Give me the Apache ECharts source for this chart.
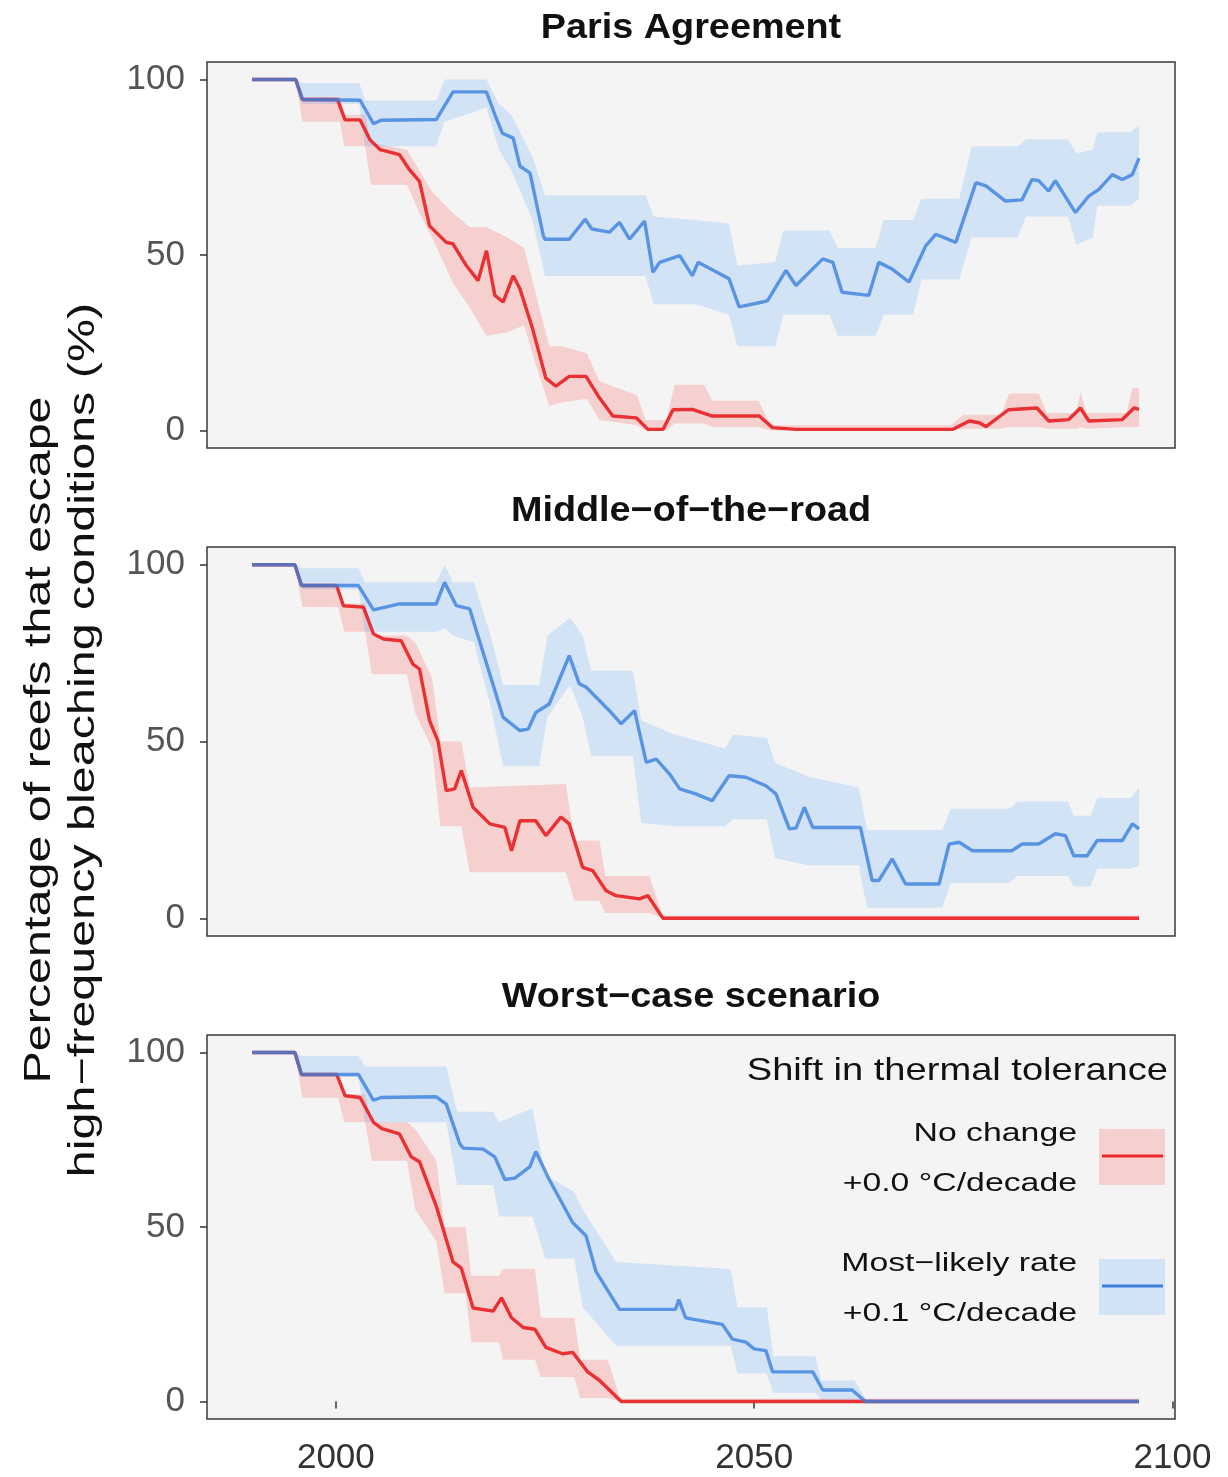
<!DOCTYPE html>
<html>
<head>
<meta charset="utf-8">
<script src="https://cdn.jsdelivr.net/npm/echarts@6/dist/echarts.min.js"></script>
<style>
  html, body { margin: 0; padding: 0; background: #fff; }
  #chart { width: 1228px; height: 1477px; }
</style>
</head>
<body>
<div id="chart"></div>
<script>
// panel titles and tick values
const panelTitles = ['Paris Agreement', 'Middle\u2212of\u2212the\u2212road', 'Worst\u2212case scenario']
const yTicks = [0, 50, 100]
const xTicks = [2000, 2050, 2100]
const seriesNames = ['No change', 'Most\u2212likely rate']

// Paris Agreement: [year, %]
const parisNoChange = [[1990,100],[1995.2,100],[1996,94.3],[2000.2,94.3],[2001.1,88.5],[2002.9,88.5],[2004.1,82.8],[2005.3,80],[2007.6,78.6],[2008.8,74.3],[2010,71],[2011.2,58.3],[2013.2,53.6],[2014,53.2],[2015.6,47],[2017,42.7],[2018,51.2],[2019,38.5],[2020,36.6],[2021.2,44.1],[2022,40.4],[2023.5,29.1],[2025.1,14.9],[2026.3,12.6],[2027.9,15.4],[2029.9,15.4],[2031.5,9.3],[2033.1,4.1],[2035.9,3.6],[2037.3,0.3],[2039.1,0.3],[2040.3,5.9],[2042.6,6],[2045,4.1],[2050.6,4.1],[2052.2,0.8],[2055,0.3],[2073.7,0.3],[2075.7,2.7],[2076.9,2.2],[2077.7,1.1],[2080.4,5.9],[2083.8,6.4],[2085.2,2.7],[2087.6,3.1],[2089,6.4],[2090,2.7],[2094,3.1],[2095.4,6.4],[2096,6]]
const parisLikely = [[1990,100],[1995.2,100],[1996,94.3],[2002.9,94.1],[2004.5,87.4],[2005.4,88.4],[2012,88.6],[2014,96.5],[2018,96.5],[2019.1,89.4],[2019.9,84.7],[2021.2,83.3],[2022,75.3],[2023.2,73.4],[2024.8,55.5],[2025,54.5],[2027.9,54.5],[2029.8,60.2],[2030.6,57.4],[2032.7,56.5],[2033.9,59.3],[2035.1,54.5],[2036.9,59.7],[2037.9,45.1],[2038.7,47.9],[2041.1,49.8],[2042.6,44.1],[2043.3,47.9],[2047,43.2],[2048.2,35.2],[2051,36.6],[2051.6,37],[2053.8,45.6],[2055,41.3],[2058.2,48.9],[2059.4,47.9],[2060.5,39.4],[2063.7,38.5],[2064.9,47.9],[2066.5,46],[2068.5,42.3],[2070.5,52.6],[2071.7,55.9],[2074.1,53.6],[2076.5,70.6],[2077.7,69.7],[2080,65.4],[2082,65.7],[2083.2,71.5],[2084,71.2],[2085.2,68.2],[2086,71.2],[2088.4,62.1],[2090,66.8],[2091.2,68.7],[2092.8,72.9],[2094,71.5],[2095.2,72.9],[2096,77.6]]
// bands: [year, low, high]
const parisNoChangeBand = [[1990,100,100],[1995.2,100,100],[1996,88,95],[2000.5,88,95],[2001,81,90],[2003.5,81,90],[2004.2,70,82],[2008.5,70,80],[2010,62,74],[2011.5,55,68],[2014,42,62],[2016,35,58],[2018,27,58],[2020.5,28,55],[2022.5,30,52],[2024,18,38],[2025.5,7,24],[2027,8,24],[2030,9,22],[2031.5,3,14],[2036,1.5,10],[2037,0,3],[2039.5,0,3],[2040.5,2,13],[2044,2,13],[2045,1,8.5],[2050.5,1,8.5],[2052,0,1.5],[2073.5,0,1.5],[2075,0.5,4.5],[2079.5,0.5,4.5],[2080.5,1,10.5],[2084,1,10.5],[2085,0.5,5],[2088.5,0.5,5],[2089,1,11],[2089.7,0.5,5],[2094.5,1,5],[2095.2,1,12],[2096,1,12]]
const parisLikelyBand = [[1990,100,100],[1995.2,100,100],[1996,93,99],[2002.8,93,99],[2003.5,81,94],[2012,81,94],[2013,88,100],[2018,92,100],[2019.5,80,93],[2021,74,90],[2023.5,60,78],[2025,44,67],[2037,44,67],[2038,36,61],[2043,36,60],[2047,33,59],[2048,24,47],[2052.5,24,48],[2053.5,33,57],[2059,33,57],[2060,27,52],[2064.5,27,52],[2065.5,33,60],[2069,33,60],[2070,43,66],[2074.5,43,66],[2076,55,81],[2081.5,55,81],[2082.5,61,83],[2087.5,61,83],[2088.5,53,79],[2090.5,55,80],[2091,64,85],[2095,64,85],[2096,66,87]]

// Middle-of-the-road
const middleNoChange = [[1990,100],[1995.1,100],[1995.9,94.1],[2000.1,94.1],[2000.9,88.4],[2003.3,88],[2004.5,80.4],[2005.7,79],[2007.8,78.5],[2009.2,71.9],[2010,70.5],[2011.2,55.9],[2012.2,50.2],[2013.2,36.1],[2014.2,36.6],[2015,41.8],[2016.4,31.4],[2018.4,26.7],[2020.2,25.7],[2021,19.1],[2022,27.6],[2023.9,27.6],[2025.1,23.4],[2026.9,28.6],[2027.9,26.7],[2029.5,14.4],[2030.7,13.5],[2032.3,7.8],[2033.5,6.4],[2036.3,5.5],[2037.3,6.4],[2039.1,0],[2096,0]]
const middleLikely = [[1990,100],[1995.1,100],[1995.9,94.1],[2002.7,94.1],[2004.5,87.2],[2007.6,88.9],[2012,88.9],[2013,95],[2014.4,88.4],[2016,87.5],[2020,56.8],[2022,53.1],[2023,53.5],[2023.9,58.2],[2025.5,60.6],[2027.9,74.3],[2029.1,66.3],[2029.9,65.4],[2032.7,58.7],[2034.1,55],[2035.7,58.7],[2037.1,44.1],[2038.3,45],[2039.9,40.8],[2041.1,36.6],[2043,35.2],[2045,33.3],[2047,40.3],[2049,39.9],[2051.4,37.5],[2052.6,35.2],[2054.2,25.3],[2055,25.5],[2056,31.4],[2057,25.7],[2062.7,25.7],[2064.1,10.7],[2064.9,10.7],[2066.5,16.8],[2068.1,9.7],[2072.1,9.7],[2073.3,21],[2074.5,21.5],[2076.1,19.1],[2080.8,19.1],[2082,21],[2084,21],[2086,23.9],[2087.2,23.4],[2088.2,17.7],[2089.8,17.7],[2091,22],[2094,22],[2095.2,26.7],[2096,25.3]]
const middleNoChangeBand = [[1990,100,100],[1995.1,100,100],[1996,88,94],[2000.3,88,94],[2001,81,89],[2003.5,81,89],[2004.3,69,80],[2008.5,69,80],[2009.5,58,78],[2011.5,48,68],[2012.5,26,50],[2015,26,50],[2016,13,37],[2027.5,13,38],[2028.5,5,22],[2031.5,5,22],[2032.2,1.5,12],[2037.5,1.5,12],[2039,0,0.8],[2096,0,0.8]]
const middleLikelyBand = [[1990,100,100],[1995.1,100,100],[1996,93,99],[2002.7,93,99],[2003.5,81,95],[2012,81,95],[2013,82,100],[2014,80,95],[2016.5,78,95],[2018.5,60,80],[2020,43,66],[2024.3,43,66],[2025.3,57,80],[2028,66,85],[2029.5,57,80],[2030.5,46,70],[2035.5,46,70],[2036.5,27,56],[2040.5,26,52],[2046.5,26,48],[2047.5,28,52],[2051.5,28,51],[2052.5,17,44],[2056.5,15,40],[2062.5,15,37],[2063.5,3,25],[2072.5,3,25],[2073.5,10,31],[2080.5,10,31],[2081.5,12,33],[2087.5,12,33],[2088.2,9,29],[2090.2,9,29],[2091,14,34],[2095,14,34],[2096,15,37]]

// Worst-case scenario
const worstNoChange = [[1990,100],[1995.1,100],[1995.9,93.7],[2000.1,93.7],[2001.1,87.6],[2002.9,87.1],[2004.5,80],[2005.5,78.2],[2007.6,76.7],[2009,70.1],[2010,68.7],[2012,56],[2014,40],[2015,38.2],[2016.4,26.8],[2018.8,25.9],[2019.8,29.7],[2021,24],[2022.4,21.2],[2023.8,20.7],[2025.1,15.5],[2027.1,13.7],[2028.3,14.1],[2030.1,8.5],[2031.5,6.1],[2034.1,0],[2096,0]]
const worstLikely = [[1990,100],[1995.1,100],[1995.9,93.7],[2002.7,93.7],[2004.5,86.3],[2005.4,87.1],[2012,87.3],[2013.2,85.2],[2014.8,73.9],[2015.2,72.6],[2017.6,72.3],[2019,70.1],[2020.2,63.6],[2021.4,64],[2023.2,67.3],[2023.9,71.6],[2025.5,63.6],[2028.3,51.3],[2029.9,47.5],[2031.1,37.2],[2033.9,26.4],[2040.6,26.4],[2041,29.2],[2041.8,24],[2042.6,23.6],[2046.2,22.1],[2047.4,17.9],[2049,17],[2050,15.1],[2051.4,14.6],[2052.2,8.5],[2057,8.5],[2058.2,3.3],[2061.7,3.3],[2063.3,0],[2096,0]]
const worstNoChangeBand = [[1990,100,100],[1995.1,100,100],[1996,87,94],[2000.3,87,94],[2001,80,88],[2003.5,80,88],[2004.3,69,80],[2008.5,69,80],[2009.5,55,78],[2012,46,69],[2013,31,50],[2015.5,31,50],[2016.2,17,36],[2019.5,17,36],[2020,12,38],[2023.8,12,38],[2024.5,7,24],[2028.5,7,24],[2029.2,1,12],[2032.5,1,12],[2034,0,0.8],[2096,0,0.8]]
const worstLikelyBand = [[1990,100,100],[1995.1,100,100],[1996,93,99],[2002.7,93,99],[2003.5,80,96],[2013.2,80,96],[2014.5,62,83],[2018.8,62,83],[2019.5,53,80],[2023.5,53,84],[2025,41,65],[2028.5,41,60],[2029.5,27,55],[2033.5,16,40],[2047.2,16,38],[2048,8,27],[2051.5,8,27],[2052.3,2.5,13],[2057.3,2.5,13],[2058,0.5,6],[2062,0.5,6],[2063.3,0,0.8],[2096,0,0.8]]

const panels = [
  { lines: [parisNoChange, parisLikely], bands: [parisNoChangeBand, parisLikelyBand] },
  { lines: [middleNoChange, middleLikely], bands: [middleNoChangeBand, middleLikelyBand] },
  { lines: [worstNoChange, worstLikely], bands: [worstNoChangeBand, worstLikelyBand] }
]

const FONT = '"Liberation Sans", Arial, sans-serif'
const lineColors = ['#e8282b', '#3a7fdc']
const bandColors = ['rgba(255, 60, 60, 0.2)', 'rgba(60, 150, 255, 0.18)']
const gridTops = [62, 547, 1035]
const gridHeights = [386, 389, 384]

const chart = echarts.init(document.getElementById('chart'), null, { renderer: 'canvas' })

function bandSeries(band, color, idx) {
  return {
    type: 'custom',
    xAxisIndex: idx,
    yAxisIndex: idx,
    silent: true,
    data: band,
    encode: { x: 0, y: [1, 2] },
    renderItem: (params, api) => {
      if (params.dataIndex !== 0) return null
      const upper = band.map(d => api.coord([d[0], d[2]]))
      const lower = band.map(d => api.coord([d[0], d[1]])).reverse()
      return {
        type: 'polygon',
        shape: { points: upper.concat(lower) },
        style: { fill: color }
      }
    }
  }
}

const grids = [], xAxes = [], yAxes = [], series = []
panels.forEach((p, i) => {
  grids.push({
    left: 207, width: 968, top: gridTops[i], height: gridHeights[i],
    show: true, backgroundColor: '#f4f4f4', borderColor: '#3a3a3a', borderWidth: 1.5
  })
  const isBottom = i === 2
  xAxes.push({
    type: 'value', gridIndex: i, min: 1984.6, max: 2100.3,
    axisLine: { show: false },
    splitLine: { show: false },
    axisTick: { show: isBottom, customValues: xTicks, length: 7, lineStyle: { color: '#333', width: 1.5 } },
    axisLabel: {
      show: isBottom, customValues: xTicks, margin: 22, fontSize: 35, color: '#333', fontFamily: FONT,
      formatter: v => String(v)
    }
  })
  yAxes.push({
    type: 'value', gridIndex: i, min: -5, max: 105,
    axisLine: { show: false },
    splitLine: { show: false },
    axisTick: { show: true, customValues: yTicks, length: 7, lineStyle: { color: '#333', width: 1.5 } },
    axisLabel: { customValues: yTicks, margin: 22, fontSize: 35, color: '#555', fontFamily: FONT }
  })
  p.bands.forEach((b, k) => series.push(bandSeries(b, bandColors[k], i)))
  p.lines.forEach((l, k) => series.push({
    name: seriesNames[k],
    type: 'line',
    xAxisIndex: i,
    yAxisIndex: i,
    data: l,
    showSymbol: false,
    silent: true,
    lineStyle: { color: lineColors[k], width: 3.4, opacity: k === 1 ? 0.8 : 0.95 }
  }))
})

const titleMid = [28, 511, 997]
const graphic = panelTitles.map((t, i) => ({
  type: 'text', x: 691, y: titleMid[i], scaleX: 1.08,
  style: { text: t, font: 'bold 35px ' + FONT, fill: '#111', align: 'center', verticalAlign: 'middle' }
}))

graphic.push({
  type: 'text', x: 62, y: 740, rotation: Math.PI / 2, scaleX: 1.31,
  style: {
    text: 'Percentage of reefs that escape\nhigh\u2212frequency bleaching conditions (%)',
    font: '37px ' + FONT, fill: '#111', align: 'center', verticalAlign: 'middle', lineHeight: 44
  }
})

// legend inside the bottom panel
graphic.push({
  type: 'text', x: 1168, y: 1071, scaleX: 1.19,
  style: { text: 'Shift in thermal tolerance', font: '32px ' + FONT, fill: '#111', align: 'right', verticalAlign: 'middle' }
})
const legendLabels = [['No change', '+0.0 \u00b0C/decade'], ['Most\u2212likely rate', '+0.1 \u00b0C/decade']]
const legendMid = [1157, 1287]
legendLabels.forEach((lab, k) => {
  graphic.push({
    type: 'text', x: 1077, y: legendMid[k] - 23, scaleX: 1.3,
    style: { text: lab[0], font: '26px ' + FONT, fill: '#111', align: 'right', verticalAlign: 'middle' }
  })
  graphic.push({
    type: 'text', x: 1077, y: legendMid[k] + 27, scaleX: 1.3,
    style: { text: lab[1], font: '26px ' + FONT, fill: '#111', align: 'right', verticalAlign: 'middle' }
  })
  graphic.push({
    type: 'rect', shape: { x: 1099, y: legendMid[k] - 28, width: 66, height: 56 },
    style: { fill: bandColors[k] }
  })
  graphic.push({
    type: 'line', shape: { x1: 1102, y1: legendMid[k] - 1, x2: 1163, y2: legendMid[k] - 1 },
    style: { stroke: lineColors[k], lineWidth: 3.2 }
  })
})

chart.setOption({
  animation: false,
  grid: grids,
  xAxis: xAxes,
  yAxis: yAxes,
  series: series,
  graphic: graphic
})
</script>
</body>
</html>
